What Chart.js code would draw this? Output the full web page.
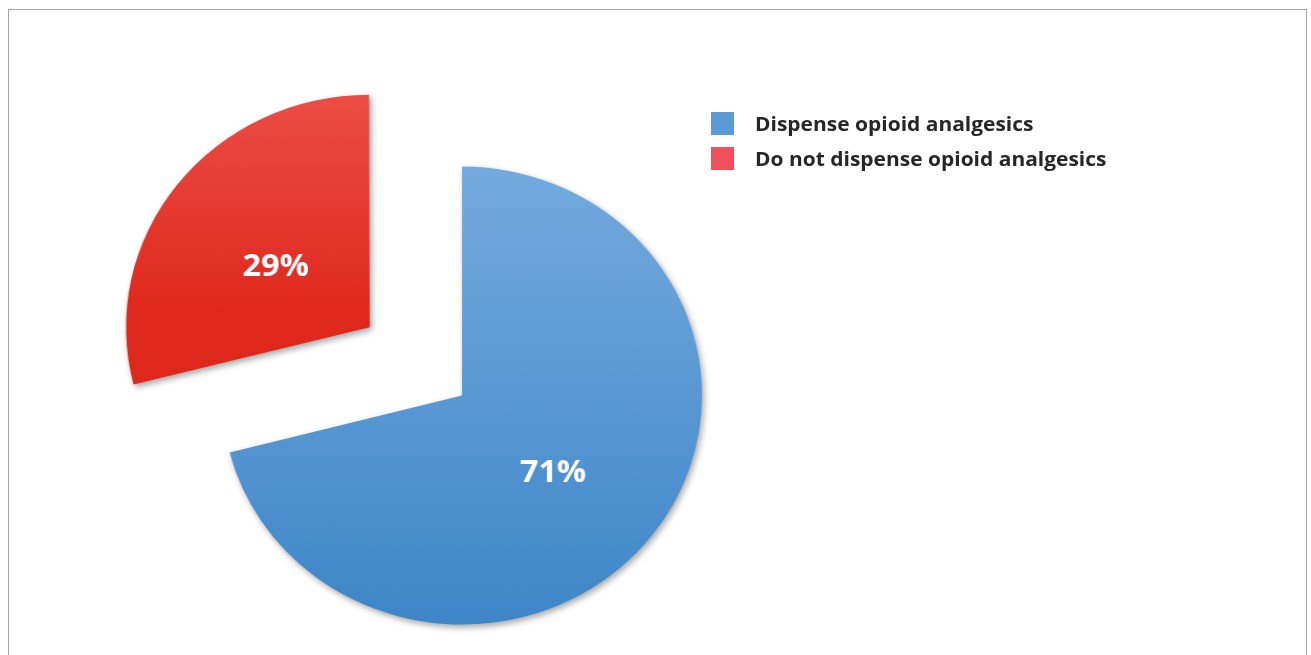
<!DOCTYPE html>
<html>
<head>
<meta charset="utf-8">
<script src="https://cdn.jsdelivr.net/npm/chart.js@4"></script>
<style>
  html, body { margin:0; padding:0; background:#fff; }
  #wrap { position:relative; width:1311px; height:655px; overflow:hidden; }
  #frame { position:absolute; left:8px; top:9px; width:1299px; height:700px;
           border:1.5px solid #a3a3a3; border-bottom:none; box-sizing:border-box; }
  /* the source picture is slightly wider than tall, so everything is stretched a little */
  #chart { position:absolute; left:0; top:0; width:1311px; height:655px;
           transform:scaleX(1.048); transform-origin:462px 0; }
  .legend { position:absolute; left:711px; font-family:"Open Sans", sans-serif;
            font-weight:bold; font-size:20px; color:#262626;
            transform:scaleX(1.048); transform-origin:0 0; white-space:nowrap; }
  .legend div { height:35px; display:flex; align-items:center; }
  .legend span.box { width:22px; height:23px; display:inline-block; margin-right:20px; }
</style>
</head>
<body>
<div id="wrap">
  <div id="frame"></div>
  <canvas id="chart" width="1311" height="655"></canvas>
  <div class="legend" id="legend" style="top:106px"></div>
</div>
<script>
/* ---- data ---- */
const labels = ['Dispense opioid analgesics', 'Do not dispense opioid analgesics'];
const values = [71, 29];
const pctLabels = ['71%', '29%'];
const legendColors = ['#5b9bd5', '#f04f5c'];
const topColors = ['#74aade', '#f05852'];
const bottomColors = ['#3e86c8', '#df281c'];
const offsets = [0, 446];

const RADIUS = 229;

// where a slice ends up after chart.js applies its offset (offset/4 plus the small-arc fix)
function sliceShift(i){
  const total = values.reduce((a,b)=>a+b,0);
  let start = -Math.PI/2;
  for(let k=0;k<i;k++) start += values[k]/total*2*Math.PI;
  const circ = values[i]/total*2*Math.PI;
  const half = start + circ/2;
  const o = offsets[i]/4;
  const fix = 1 - Math.sin(Math.min(Math.PI, circ));
  const d = o + o*fix;
  return {dx:Math.cos(half)*d, dy:Math.sin(half)*d, start, end:start+circ, half};
}

function sliceFill(ctx){
  const chart = ctx.chart, a = chart.chartArea, i = ctx.dataIndex;
  if(!a) return legendColors[i];
  const cy = (a.top + a.bottom)/2;
  const s = sliceShift(i);
  let y0 = cy + s.dy - RADIUS, y1 = cy + s.dy + RADIUS;
  if(i === 1) y1 = cy + s.dy + RADIUS*Math.sin(s.start);
  const g = chart.ctx.createLinearGradient(0, y0, 0, y1);
  g.addColorStop(0, topColors[i]);
  g.addColorStop(1, bottomColors[i]);
  return g;
}

const shadowPlugin = {
  id:'shadow',
  beforeDatasetDraw(chart){
    const c = chart.ctx;
    c.save();
    c.shadowColor = 'rgba(0,0,0,0.35)';
    c.shadowBlur = 6;
    c.shadowOffsetX = 2;
    c.shadowOffsetY = 3;
  },
  afterDatasetDraw(chart){ chart.ctx.restore(); }
};

const pctPlugin = {
  id:'pct',
  afterDatasetsDraw(chart){
    const c = chart.ctx;
    const meta = chart.getDatasetMeta(0);
    c.save();
    c.fillStyle = '#fff';
    c.font = 'bold 31px "Open Sans", sans-serif';
    c.textAlign = 'center';
    c.textBaseline = 'middle';
    meta.data.forEach((arc, i) => {
      const s = sliceShift(i);
      const r = arc.outerRadius*0.48;
      const x = arc.x + s.dx + Math.cos(s.half)*r;
      const y = arc.y + s.dy + Math.sin(s.half)*r + 10;
      c.fillText(pctLabels[i], x, y);
    });
    c.restore();
  }
};

new Chart(document.getElementById('chart'), {
  type:'pie',
  data:{ labels:labels, datasets:[{
    data:values,
    backgroundColor:sliceFill,
    borderWidth:0,
    offset:offsets,
    hoverOffset:0
  }]},
  options:{
    responsive:false,
    animation:false,
    events:[],
    radius:RADIUS,
    layout:{ padding:{ top:136, right:387 } },
    plugins:{ legend:{display:false}, tooltip:{enabled:false} }
  },
  plugins:[shadowPlugin, pctPlugin]
});

document.getElementById('legend').innerHTML = labels.map((l,i)=>
  `<div><span class="box" style="background:${legendColors[i]}"></span>${l}</div>`).join('');
</script>
</body>
</html>
